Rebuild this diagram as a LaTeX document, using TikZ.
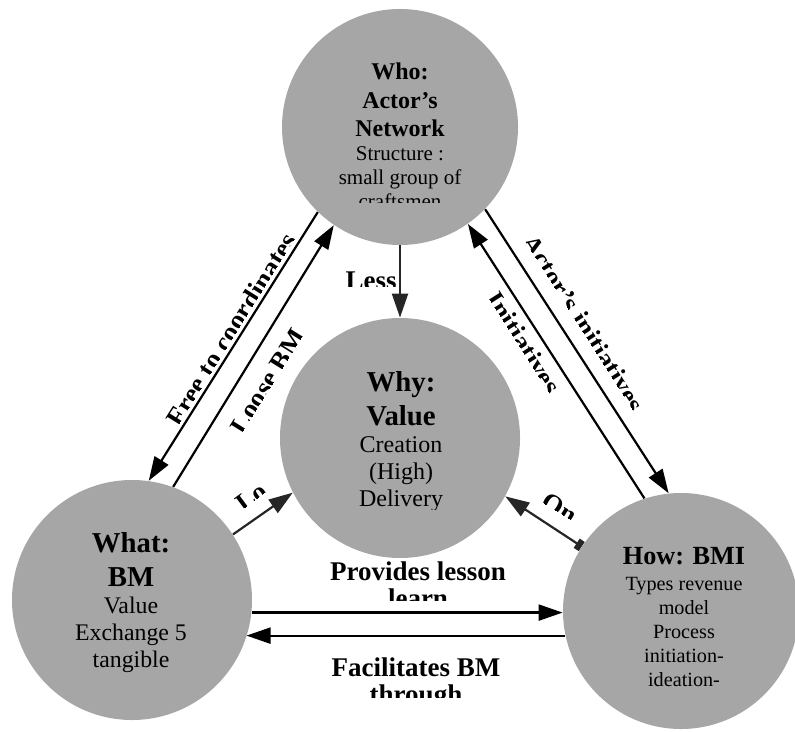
\documentclass[tikz,border=0pt]{standalone}
\usepackage{fontspec}
\setmainfont{Liberation Serif}
\usetikzlibrary{arrows.meta}
\tikzset{
  blob/.style={circle, fill=gray!70, inner sep=0pt, minimum size=#1},
  arr/.style={-{Triangle[length=12pt,width=8pt]}, line width=1.1pt},
  lbl/.style={font=\fontsize{13.5}{13.5}\selectfont\bfseries, inner sep=0pt},
  intxt/.style={inner sep=0pt, align=center, anchor=north},
}

\begin{document}
\begin{tikzpicture}[x=0.5pt, y=-0.5pt]
  \useasboundingbox (0,0) rectangle (795,731);

  % ---------- the four circles ----------
  \node[blob=118pt] (who)  at (400,127) {};
  \node[blob=120pt] (why)  at (400,438) {};
  \node[blob=120pt] (what) at (132,600) {};
  \node[blob=118pt] (how)  at (681,611) {};

  % ---------- circle texts (boxes cut off at the bottom) ----------
  \begin{scope}
    \clip (280,40) rectangle (520,203);
    \node[intxt, font=\fontsize{10.5}{12}\selectfont] (whotxt) at (400,62)
      {\bfseries\fontsize{12}{12}\selectfont Who:\\[2.5pt]
       \bfseries\fontsize{12}{12}\selectfont Actor’s\\[2pt]
       \bfseries\fontsize{12}{12}\selectfont Network\\
       Structure :\\ small group of\\ craftsmen};
  \end{scope}
  \begin{scope}
    \clip (280,350) rectangle (520,509);
    \node[intxt, font=\fontsize{12}{13.5}\selectfont] (whytxt) at (401,371)
      {\bfseries\fontsize{14.4}{14}\selectfont Why:\\[3.5pt]
       \bfseries\fontsize{14.4}{14}\selectfont Value\\
       Creation\\ (High)\\ Delivery};
  \end{scope}
  \node[intxt, font=\fontsize{11.9}{13.5}\selectfont] (whattxt) at (131,532)
    {\bfseries\fontsize{14.4}{14}\selectfont What:\\[3.5pt]
     \bfseries\fontsize{14.4}{14}\selectfont BM\\
     Value\\ Exchange 5\\ tangible};
  \node[intxt, font=\fontsize{10.1}{12}\selectfont] (howtxt) at (684,547)
    {\bfseries\fontsize{13.1}{13}\selectfont How: BMI\\[1pt]
     Types revenue\\ model\\ Process\\ initiation-\\ ideation-};

  % ---------- connectors ----------
  \draw[arr] (who.226) -- (what.82);
  \draw[arr] (what.70) -- (who.236);
  \draw[arr] (who.316) -- (how.96);
  \draw[arr] (how.108) -- (who.305);
  \draw[arr, black!85] (who.270) -- (why.90);
  \draw[arr, black!85] (what.33) -- (why.207);
  \draw[{Triangle[length=12pt,width=8pt]}-{Square[length=3pt,width=5.5pt]}, line width=1.1pt, black!85]
    (why.331) -- (how.147);
  \draw[arr] (what.354) -- (what.354 -| how.west);
  \draw[arr] (how.192) -- (how.192 -| what.342);

  % ---------- connector labels (also cut off) ----------
  \begin{scope}
    \clip (330,255) rectangle (400,287);
    \node[lbl, anchor=base east] (less) at (397,290) {Less};
  \end{scope}
  \begin{scope}[shift={(236,332)}, rotate=58, transform shape]
    \clip (-130,-30) rectangle (130,0);
    \node[lbl, anchor=base] (free) at (0,4) {Free to coordinates};
  \end{scope}
  \begin{scope}[shift={(272,384)}, rotate=58, transform shape]
    \clip (-80,-30) rectangle (80,0);
    \node[lbl, anchor=base] (loose) at (0,4) {Loose BM};
  \end{scope}
  \begin{scope}[shift={(579,326)}, rotate=-57.5, transform shape]
    \clip (-130,-30) rectangle (130,0);
    \node[lbl, anchor=base] (actors) at (0,4) {Actor’s initiatives};
  \end{scope}
  \begin{scope}[shift={(519,346)}, rotate=-57.5, transform shape]
    \clip (-80,-30) rectangle (80,0);
    \node[lbl, anchor=base] (initiat) at (0,4) {Initiatives};
  \end{scope}
  \begin{scope}[shift={(241,510)}, rotate=36.6, transform shape]
    \clip (-5,-30) rectangle (60,0);
    \node[lbl, anchor=base west] (lo) at (0,5) {Lo};
  \end{scope}
  \begin{scope}[shift={(542,502)}, rotate=-31.7, transform shape]
    \clip (-5,-30) rectangle (60,0);
    \node[lbl, anchor=base west] (on) at (0,5) {On};
  \end{scope}
  \begin{scope}
    \clip (300,545) rectangle (540,600);
    \node[lbl, align=center, anchor=north] (provides) at (418,561) {Provides lesson\\learn};
  \end{scope}
  \begin{scope}
    \clip (300,640) rectangle (540,697);
    \node[lbl, align=center, anchor=north] (facil) at (416,657) {Facilitates BM\\through};
  \end{scope}

\end{tikzpicture}
\end{document}
